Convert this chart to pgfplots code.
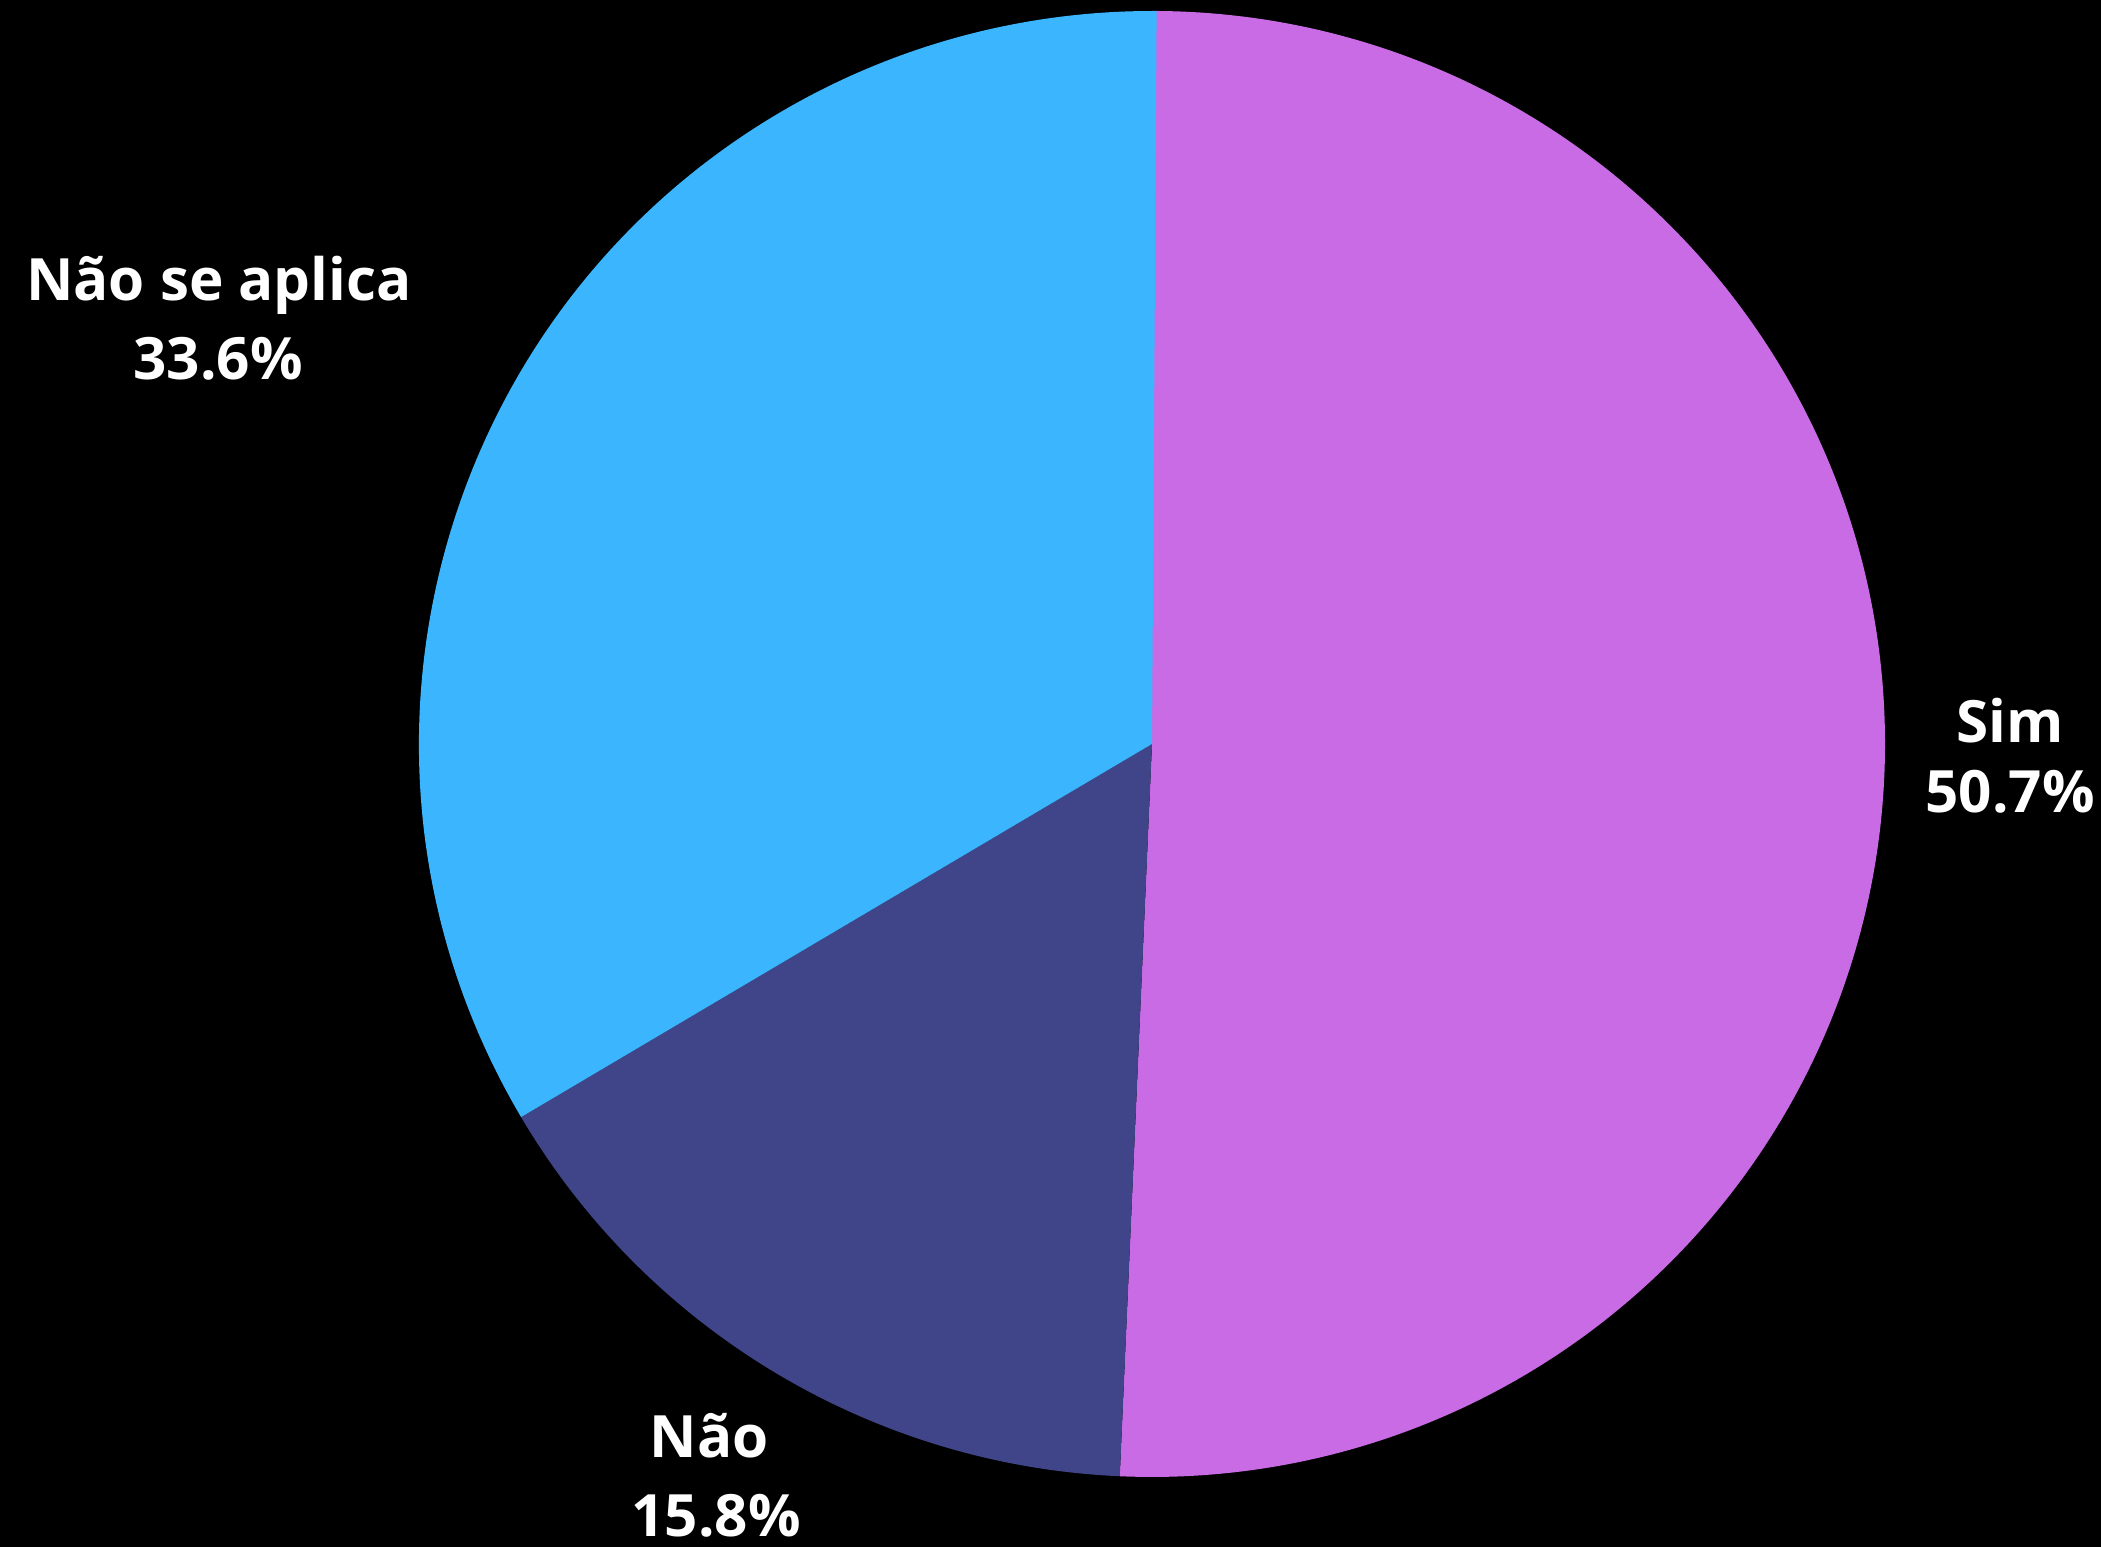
\documentclass[border=0pt]{standalone}
\usepackage{pgfplots}
\pgfplotsset{compat=1.18}
\usepackage{fontspec}
\setmainfont{Open Sans}
\definecolor{simc}{HTML}{C96BE5}
\definecolor{naoc}{HTML}{3F4588}
\definecolor{napc}{HTML}{3AB5FE}
\tikzset{lbl/.style={font={\fontsize{16.6}{22}\selectfont\bfseries}, text=white, inner sep=0pt, anchor=base}}
\begin{document}
\begin{tikzpicture}
% slice values (percent)
\def\vSim{50.7}
\def\vNao{15.8}
\def\vNap{33.6}
\pgfmathsetmacro\aZero{90}
\pgfmathsetmacro\aOne{90-3.6*\vSim}
\pgfmathsetmacro\aTwo{\aOne-3.6*\vNao}
\pgfmathsetmacro\aThree{\aTwo-3.6*\vNap}
\def\R{7.33}
\begin{axis}[
  x=1cm, y=1cm,
  xmin=-11.52, xmax=9.49, ymin=-8.03, ymax=7.44,
  scale only axis, hide axis, clip=false,
  axis background/.style={fill=black},
]
\fill[simc] (axis cs:0,0) -- (axis cs:{\R*cos(\aZero)},{\R*sin(\aZero)}) arc[start angle=\aZero, end angle=\aOne, radius=\R cm] -- cycle;
\fill[naoc] (axis cs:0,0) -- (axis cs:{\R*cos(\aOne)},{\R*sin(\aOne)}) arc[start angle=\aOne, end angle=\aTwo, radius=\R cm] -- cycle;
\fill[napc] (axis cs:0,0) -- (axis cs:{\R*cos(\aTwo)},{\R*sin(\aTwo)}) arc[start angle=\aTwo, end angle=\aThree, radius=\R cm] -- cycle;
\node[lbl] at (axis cs:8.58,0.01) {Sim};
\node[lbl] at (axis cs:8.58,-0.69) {50.7\%};
\node[lbl] at (axis cs:-9.33,4.43) {Não se aplica};
\node[lbl] at (axis cs:-9.34,3.64) {33.6\%};
\node[lbl] at (axis cs:-4.43,-7.14) {Não};
\node[lbl] at (axis cs:-4.36,-7.93) {15.8\%};
\end{axis}
\end{tikzpicture}
\end{document}
